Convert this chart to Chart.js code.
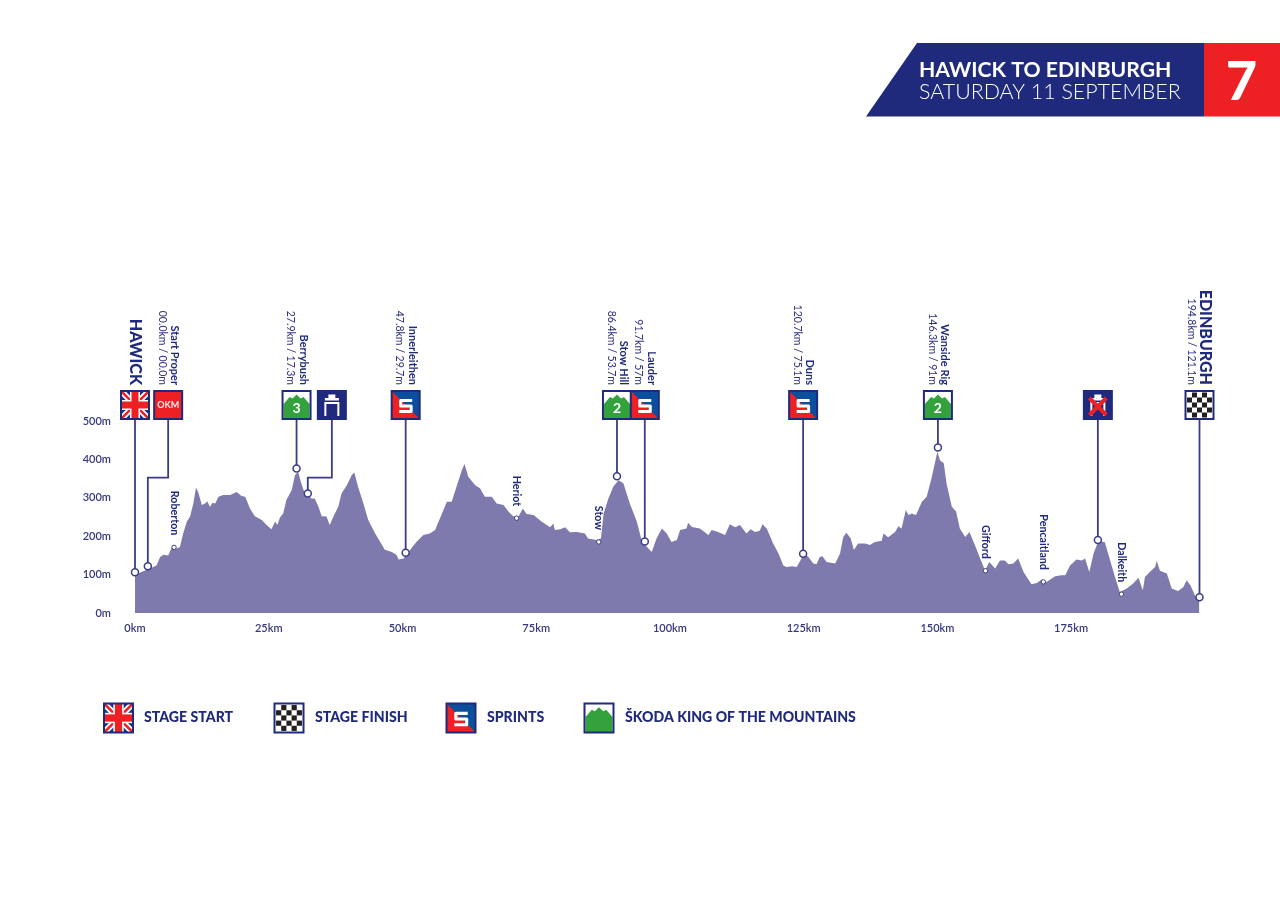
<!DOCTYPE html>
<html>
<head>
<meta charset="utf-8">
<title>Stage 7 profile</title>
<script src="https://cdn.jsdelivr.net/npm/chart.js@4"></script>
<style>
  body { margin: 0; background: #fff; }
  canvas { display: block; }
</style>
</head>
<body>
<canvas id="profileChart" width="1280" height="905"></canvas>
<script>
// elevation profile
const profileKm = [0,1.2,2.8,4,4.7,5.3,6.2,6.9,7.8,8.4,9,9.7,10.3,10.9,11.4,11.8,12.5,13.1,13.5,14,14.5,15,15.6,16.5,17.8,19,19.9,20.6,21.5,22.4,23.7,24.6,25.5,26.2,26.6,27.1,27.7,28.3,29.3,29.9,30.5,31,31.5,32.2,33,33.6,34.3,34.9,35.8,36.4,37.1,38,38.6,39.6,40.5,41,41.7,42.7,43.6,44.9,46.7,48,48.9,49.3,50.2,51.4,52.6,53.9,55.1,
  56.1,57,58.3,59.2,60.1,61.1,61.6,62.3,63.6,64.5,65.4,66.7,67.6,68.9,69.8,70.7,71.7,72.5,73.2,74.5,76,77.6,78.2,78.5,79.5,80.4,81.3,82.6,84.1,84.7,86.3,87.1,87.6,88.5,89.4,90.4,91.3,92.5,93.8,94.7,95.7,96.6,97.5,98.5,99.4,100.3,101.3,101.9,103.1,103.4,104.1,105.6,107.2,107.8,109,110.3,111.2,112.2,113.1,114.3,115.1,115.9,116.8,117.3,118.1,119.3,120.3,121.2,121.8,122.8,123.7,124.6,125.1,125.9,126.8,127.4,128,128.5,129.3,
  130.9,131.8,132.4,133,133.8,134.4,135.2,136.5,137.4,138.3,139.6,139.9,140.8,142.1,142.7,143.3,144.1,144.6,145.2,146,147.1,148,148.9,150,150.5,151.2,151.7,152.7,153.5,154.2,155.2,156,157,158,158.9,159.7,160.8,161.7,162.6,163.3,164.2,165.1,166.1,167.6,168.6,169.5,170.4,172,173.2,173.9,174.8,176,177,177.6,178.4,179.2,180.1,181.3,182.3,183.2,184.1,185.4,186.6,187.6,188.4,188.8,189.7,190.7,191,191.6,192.9,193.8,195,196,196.6,197.3,198.2,199];
const profileM = [98,107,116,124,146,152,150,172,168,172,207,238,251,285,326,316,281,285,291,277,287,285,303,307,307,315,305,303,272,252,242,229,218,238,229,249,259,294,320,359,368,342,320,307,298,298,277,252,251,229,251,277,311,333,359,366,329,285,242,207,165,159,151,139,142,164,185,203,207,
  216,246,290,290,329,372,388,355,333,325,303,303,285,281,264,252,251,272,258,255,238,223,233,216,218,223,210,211,207,194,190,194,259,298,329,346,338,285,238,190,172,159,194,220,207,185,190,216,220,235,224,220,203,216,211,203,231,223,229,207,218,211,214,231,220,181,155,124,120,122,120,142,155,146,129,127,146,148,133,
  129,155,198,209,194,165,181,181,177,185,188,207,197,211,226,220,268,255,259,255,290,303,351,420,397,390,338,277,264,220,198,211,177,142,111,133,116,137,137,127,129,142,107,75,78,87,81,96,98,98,124,139,137,142,107,155,188,184,137,94,55,64,77,92,59,94,107,120,136,110,103,64,57,68,85,72,44,37];

const xTicks = [0,25,50,75,100,125,150,175];
const yTicks = [0,100,200,300,400,500];

// points with a flag above them
const stopKm = [0,2.4,30.2,32.3,50.6,90.1,95.3,124.9,150.1,180,199];
const stopM = [106,122,376,311,157,356,186,154,431,190,41];
const stopBoxKm = [0,6.2,30.2,36.8,50.6,90.1,95.3,124.9,150.1,180,199];
const stopIcon = ["flag","okm","kom3","tunnel","sprint","kom2","sprint","sprint","kom2","cross","finish"];
const stopName = ["HAWICK","Start Proper","Berrybush","","Innerleithen","Stow Hill","Lauder","Duns","Wanside Rig","","EDINBURGH"];
const stopDist = ["","00.0km / 00.0m","27.9km / 17.3m","","47.8km / 29.7m","86.4km / 53.7m","91.7km / 57m","120.7km / 75.1m","146.3km / 91m","","194.8km / 121.1m"];

// small towns along the road
const townNames = ["Roberton","Heriot","Stow","Gifford","Pencaitland","Dalkeith"];
const townKm = [7.3,71.35,86.7,159,169.8,184.4];
const townM = [171,247,185,110,81,49];

const legendLabels = ["STAGE START","STAGE FINISH","SPRINTS","ŠKODA KING OF THE MOUNTAINS"];
const legendIcons = ["flag","finish","sprint","kom"];

const NAVY = "#1f2a7c", RED = "#ed2024", GREEN = "#33a23d", BLUE = "#0b4f9c", STEM = "#3a3c87";
const FONT = "Lato, sans-serif";

function drawIcon(ctx, kind, x, y, s) {
  ctx.save();
  ctx.beginPath(); ctx.rect(x, y, s, s); ctx.clip();
  ctx.fillStyle = "#fff";
  ctx.fillRect(x, y, s, s);
  const u = s / 28;
  if (kind === "flag") {
    ctx.fillStyle = "#1d2f7f";
    ctx.fillRect(x, y, s, s);
    ctx.strokeStyle = "#fff"; ctx.lineWidth = 6 * u;
    ctx.beginPath();
    ctx.moveTo(x, y); ctx.lineTo(x + s, y + s);
    ctx.moveTo(x + s, y); ctx.lineTo(x, y + s);
    ctx.stroke();
    ctx.strokeStyle = RED; ctx.lineWidth = 2.5 * u;
    ctx.stroke();
    ctx.fillStyle = "#fff";
    ctx.fillRect(x + 9 * u, y, 10 * u, s);
    ctx.fillRect(x, y + 9 * u, s, 10 * u);
    ctx.fillStyle = RED;
    ctx.fillRect(x + 10.5 * u, y, 7 * u, s);
    ctx.fillRect(x, y + 10.5 * u, s, 7 * u);
  } else if (kind === "okm") {
    ctx.fillStyle = RED;
    ctx.fillRect(x, y, s, s);
    ctx.fillStyle = "#fff";
    ctx.font = "bold " + 9 * u + "px " + FONT;
    ctx.globalAlpha = 0.9;
    ctx.textAlign = "center"; ctx.textBaseline = "middle";
    ctx.fillText("OKM", x + s / 2, y + s / 2);
    ctx.globalAlpha = 1;
  } else if (kind === "finish") {
    ctx.fillStyle = "#231f20";
    const c = 5 * u, o = 1.5 * u;
    for (let r = 0; r < 5; r++) {
      for (let k = 0; k < 5; k++) {
        if ((r + k) % 2 === 1) ctx.fillRect(x + o + k * c, y + o + r * c, c, c);
      }
    }
  } else if (kind === "sprint") {
    ctx.fillStyle = BLUE;
    ctx.fillRect(x, y, s, s);
    ctx.fillStyle = RED;
    ctx.beginPath();
    ctx.moveTo(x, y); ctx.lineTo(x + s, y + s); ctx.lineTo(x, y + s);
    ctx.closePath(); ctx.fill();
    ctx.strokeStyle = "#fff"; ctx.lineWidth = 3 * u;
    ctx.lineJoin = "round";
    ctx.beginPath();
    ctx.moveTo(x + 20.5 * u, y + 9.5 * u);
    ctx.lineTo(x + 9 * u, y + 9.5 * u);
    ctx.lineTo(x + 9 * u, y + 15 * u);
    ctx.lineTo(x + 19.5 * u, y + 15 * u);
    ctx.lineTo(x + 19.5 * u, y + 20.5 * u);
    ctx.lineTo(x + 7.5 * u, y + 20.5 * u);
    ctx.stroke();
  } else if (kind.startsWith("kom")) {
    ctx.fillStyle = GREEN;
    ctx.beginPath();
    ctx.moveTo(x + 1 * u, y + s);
    ctx.lineTo(x + 1 * u, y + 13 * u);
    ctx.lineTo(x + 7 * u, y + 6 * u);
    ctx.lineTo(x + 10 * u, y + 7.5 * u);
    ctx.lineTo(x + 14 * u, y + 3.5 * u);
    ctx.lineTo(x + 18 * u, y + 7.5 * u);
    ctx.lineTo(x + 21 * u, y + 6 * u);
    ctx.lineTo(x + 27 * u, y + 13 * u);
    ctx.lineTo(x + 27 * u, y + s);
    ctx.closePath(); ctx.fill();
    const n = kind.slice(3);
    if (n) {
      ctx.fillStyle = "#fff";
      ctx.font = "bold " + 14 * u + "px " + FONT;
      ctx.textAlign = "center"; ctx.textBaseline = "middle";
      ctx.fillText(n, x + s / 2, y + 17 * u);
    }
  } else if (kind === "tunnel" || kind === "cross") {
    ctx.fillStyle = NAVY;
    ctx.fillRect(x, y, s, s);
    ctx.fillStyle = "#fff";
    ctx.fillRect(x + 10.5 * u, y + 3.5 * u, 7 * u, 3.5 * u);
    ctx.fillRect(x + 7 * u, y + 7 * u, 14 * u, 2.5 * u);
    ctx.strokeStyle = "#fff"; ctx.lineWidth = 2 * u;
    ctx.beginPath();
    ctx.moveTo(x + 7.5 * u, y + 25 * u);
    ctx.lineTo(x + 7.5 * u, y + 12 * u);
    ctx.lineTo(x + 20.5 * u, y + 12 * u);
    ctx.lineTo(x + 20.5 * u, y + 25 * u);
    ctx.stroke();
    if (kind === "cross") {
      ctx.strokeStyle = RED; ctx.lineWidth = 4 * u;
      ctx.beginPath();
      ctx.moveTo(x + 5.5 * u, y + 7 * u); ctx.lineTo(x + 22.5 * u, y + 24 * u);
      ctx.moveTo(x + 22.5 * u, y + 7 * u); ctx.lineTo(x + 5.5 * u, y + 24 * u);
      ctx.stroke();
    }
  }
  ctx.restore();
  ctx.strokeStyle = NAVY; ctx.lineWidth = 2;
  ctx.strokeRect(x, y, s, s);
}

// text running down the page, ending at yEnd
function downText(ctx, str, x, yEnd, font, color) {
  ctx.save();
  ctx.translate(x, yEnd);
  ctx.rotate(Math.PI / 2);
  ctx.font = font;
  ctx.fillStyle = color;
  ctx.textAlign = "right";
  ctx.textBaseline = "middle";
  ctx.fillText(str, 0, 0);
  ctx.restore();
}

const stemsPlugin = {
  id: "stems",
  beforeDatasetsDraw(chart) {
    const { ctx, scales: { x, y } } = chart;
    ctx.save();
    ctx.strokeStyle = STEM; ctx.lineWidth = 1.8;
    stopKm.forEach((km, i) => {
      const px = x.getPixelForValue(km), py = y.getPixelForValue(stopM[i]);
      const bx = x.getPixelForValue(stopBoxKm[i]);
      ctx.beginPath();
      ctx.moveTo(bx, 419);
      if (bx !== px) {
        ctx.lineTo(bx, 477.7);
        ctx.lineTo(px, 477.7);
      }
      ctx.lineTo(px, py);
      ctx.stroke();
    });
    ctx.restore();
  }
};

const decorPlugin = {
  id: "decor",
  afterDraw(chart) {
    const { ctx, scales: { x, y } } = chart;

    // header banner
    ctx.save();
    ctx.fillStyle = NAVY;
    ctx.beginPath();
    ctx.moveTo(917, 43); ctx.lineTo(1204, 43); ctx.lineTo(1204, 116.5); ctx.lineTo(866, 116.5);
    ctx.closePath(); ctx.fill();
    ctx.fillStyle = RED;
    ctx.fillRect(1204, 43, 76, 73.5);
    ctx.fillStyle = "#fff";
    ctx.textBaseline = "alphabetic"; ctx.textAlign = "left";
    ctx.font = "bold 21.2px " + FONT;
    ctx.fillText("HAWICK TO EDINBURGH", 919, 77);
    ctx.font = "300 21.4px " + FONT;
    ctx.fillText("SATURDAY 11 SEPTEMBER", 919, 99);
    ctx.font = "900 54px " + FONT;
    ctx.textAlign = "center";
    ctx.fillText("7", 1241.5, 100);
    ctx.restore();

    // icons and labels over the stems
    stopKm.forEach((km, i) => {
      const bx = x.getPixelForValue(stopBoxKm[i]);
      drawIcon(ctx, stopIcon[i], bx - 14, 391, 28);
      const big = stopName[i] === stopName[i].toUpperCase();
      if (big && stopName[i]) {
        const nx = stopDist[i] ? bx + 6 : bx + 0.5;
        downText(ctx, stopName[i], nx, 385, "900 16px " + FONT, NAVY);
      } else if (stopName[i]) {
        downText(ctx, stopName[i], bx + 6.5, 385, "bold 11px " + FONT, NAVY);
      }
      if (stopDist[i]) {
        downText(ctx, stopDist[i], bx - (big ? 8 : 6), 385, "10.5px " + FONT, "#2c2f7d");
      }
    });

    townNames.forEach((name, i) => {
      const px = x.getPixelForValue(townKm[i]), py = y.getPixelForValue(townM[i]);
      downText(ctx, name, px, py - 12, "bold 10.7px " + FONT, NAVY);
    });

    // legend row
    const iconX = [104, 274.5, 446.5, 584.5];
    const textX = [144, 315, 487, 625];
    legendLabels.forEach((label, i) => {
      drawIcon(ctx, legendIcons[i], iconX[i], 703.5, 29);
      ctx.fillStyle = NAVY;
      ctx.font = "900 14.1px " + FONT;
      ctx.textAlign = "left"; ctx.textBaseline = "middle";
      ctx.fillText(label, textX[i], 717.5);
    });
  }
};

new Chart(document.getElementById("profileChart").getContext("2d"), {
  type: "line",
  data: {
    datasets: [
      {
        label: "Elevation",
        data: profileKm.map((km, i) => ({ x: km, y: profileM[i] })),
        backgroundColor: "#7f7aad",
        borderWidth: 0,
        pointRadius: 0,
        fill: "origin",
        tension: 0,
        order: 3
      },
      {
        label: "Stops",
        data: stopKm.map((km, i) => ({ x: km, y: stopM[i] })),
        showLine: false,
        pointRadius: 3.5,
        pointBackgroundColor: "#fff",
        pointBorderColor: STEM,
        pointBorderWidth: 1.5,
        clip: false,
        order: 1
      },
      {
        label: "Towns",
        data: townKm.map((km, i) => ({ x: km, y: townM[i] })),
        showLine: false,
        pointRadius: 2.2,
        pointBackgroundColor: "#fff",
        pointBorderColor: STEM,
        pointBorderWidth: 1,
        clip: false,
        order: 2
      }
    ]
  },
  options: {
    responsive: false,
    animation: false,
    layout: { padding: { left: 75, right: 80.5, top: 421, bottom: 262 } },
    plugins: { legend: { display: false }, tooltip: { enabled: false } },
    scales: {
      x: {
        type: "linear",
        min: 0,
        max: 199,
        grid: { display: false },
        border: { display: false },
        afterFit(scale) { scale.height = 30; },
        afterBuildTicks(scale) { scale.ticks = xTicks.map(v => ({ value: v })); },
        ticks: {
          maxRotation: 0,
          autoSkip: false,
          padding: 1,
          color: "#35387f",
          font: { family: FONT, size: 11, weight: "600" },
          callback: v => v + "km"
        }
      },
      y: {
        min: 0,
        max: 500,
        grid: { display: false },
        border: { display: false },
        afterFit(scale) { scale.width = 60; },
        afterBuildTicks(scale) { scale.ticks = yTicks.map(v => ({ value: v })); },
        ticks: {
          padding: 16,
          color: "#35387f",
          font: { family: FONT, size: 11, weight: "600" },
          callback: v => v + "m"
        }
      }
    }
  },
  plugins: [stemsPlugin, decorPlugin]
});
</script>
</body>
</html>
